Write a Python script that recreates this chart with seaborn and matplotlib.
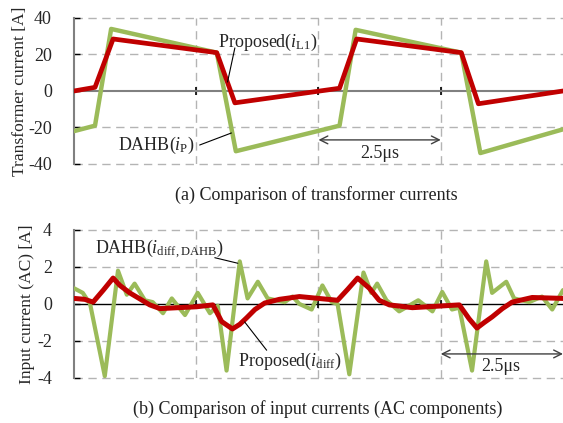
import matplotlib
matplotlib.use("Agg")
import matplotlib.pyplot as plt
import seaborn as sns
import pandas as pd

# ---- (a) transformer currents: time [us] and current [A] ----
t_prop_a = [0.0, 0.43, 0.80, 2.92, 3.29, 5.43, 5.78, 7.92, 8.27, 10.0]
i_prop_a = [0.0, 2.0, 28.5, 21.0, -6.5, 1.5, 28.5, 21.0, -7.0, 0.0]
t_dahb_a = [0.0, 0.43, 0.76, 2.92, 3.31, 5.43, 5.76, 7.92, 8.31, 10.0]
i_dahb_a = [-22.0, -19.0, 34.0, 21.0, -33.0, -19.0, 33.5, 21.0, -34.0, -21.0]

# ---- (b) input currents (AC components): time [us] and current [A] ----
t_prop_b = [0.0, 0.22, 0.39, 0.60, 0.80, 0.94, 1.14, 1.35, 1.55, 1.76, 2.51,
            2.84, 3.02, 3.24, 3.39, 3.53, 3.70, 3.90, 4.20, 4.61, 5.39, 5.60,
            5.80, 6.04, 6.24, 6.45, 6.92, 7.88, 8.08, 8.24, 8.39, 8.55, 8.76,
            8.96, 9.37, 10.0]
i_prop_b = [0.3, 0.25, 0.1, 0.75, 1.4, 1.0, 0.6, 0.27, -0.05, -0.25, -0.15,
            -0.05, -0.95, -1.35, -1.1, -0.75, -0.3, 0.05, 0.25, 0.4, 0.2, 0.8,
            1.4, 0.85, 0.2, -0.05, -0.2, -0.05, -0.8, -1.3, -1.0, -0.7, -0.25,
            0.1, 0.35, 0.3]
t_dahb_b = [0.0, 0.18, 0.33, 0.63, 0.90, 1.08, 1.24, 1.45, 1.61, 1.82, 2.00,
            2.27, 2.53, 2.78, 2.94, 3.12, 3.39, 3.55, 3.76, 3.96, 4.31, 4.47,
            4.61, 4.86, 5.08, 5.27, 5.39, 5.63, 5.92, 6.08, 6.20, 6.39, 6.65,
            7.04, 7.33, 7.53, 7.73, 7.88, 8.14, 8.43, 8.55, 8.84, 9.00, 9.31,
            9.57, 9.78, 10.0]
i_dahb_b = [0.85, 0.6, 0.0, -3.9, 1.8, 0.5, 1.1, 0.2, 0.1, -0.5, 0.3,
            -0.6, 0.6, -0.5, -0.1, -3.6, 2.3, 0.3, 1.2, 0.3, 0.1, 0.4,
            0.0, -0.3, 1.0, 0.1, 0.0, -3.8, 1.7, 0.6, 1.1, 0.2, -0.4,
            0.2, -0.4, 0.65, -0.3, -0.2, -3.6, 2.3, 0.6, 1.2, 0.3, 0.1,
            0.4, -0.3, 0.75]

y_ticks_a = [-40, -20, 0, 20, 40]
y_ticks_b = [-4, -2, 0, 2, 4]
x_div = [2.5, 5.0, 7.5]

RED = "#C00000"
GREEN = "#9BBB59"
GRID = "#B4B4B4"

sns.set_theme(style="white")
plt.rcParams["font.family"] = ["Liberation Serif", "DejaVu Serif"]
plt.rcParams["mathtext.fontset"] = "custom"
plt.rcParams["mathtext.rm"] = "Liberation Serif"
plt.rcParams["mathtext.it"] = "Liberation Serif:italic"
FS = 13

fig = plt.figure(figsize=(5.63, 4.23), dpi=100)
ax1 = fig.add_axes([0.1314, 0.6123, 0.8686, 0.3452])
ax2 = fig.add_axes([0.1314, 0.1064, 0.8686, 0.3500])


def frame(ax, ylim, yticks, zero_color, zero_lw):
    ax.set_xlim(0, 10)
    ax.set_ylim(*ylim)
    ax.set_yticks(yticks)
    ax.set_yticklabels([str(v) for v in yticks], fontsize=FS)
    for s in ("top", "right"):
        ax.spines[s].set_visible(False)
    ax.spines["left"].set_color("#808080")
    ax.spines["left"].set_linewidth(1.5)
    ax.spines["bottom"].set_position(("data", 0))
    ax.spines["bottom"].set_color(zero_color)
    ax.spines["bottom"].set_linewidth(zero_lw)
    ax.spines["bottom"].set_zorder(1)
    ax.set_xticks(x_div)
    ax.set_xticklabels([])
    ax.tick_params(axis="x", direction="inout", length=6, width=1.2,
                   color="black", bottom=True)
    ax.tick_params(axis="y", direction="in", length=4, width=1.0,
                   color="black", left=True, pad=16)
    for v in yticks:
        if v != 0:
            ax.axhline(v, color=GRID, lw=1.0, ls=(0, (6, 4)), zorder=0,
                       clip_on=False)
    for v in x_div:
        ax.axvline(v, color=GRID, lw=1.0, ls=(0, (6, 4)), zorder=0)


frame(ax1, (-40, 40), y_ticks_a, "#808080", 1.5)
frame(ax2, (-4, 4), y_ticks_b, "black", 1.0)

df_a_d = pd.DataFrame({"t": t_dahb_a, "i": i_dahb_a})
df_a_p = pd.DataFrame({"t": t_prop_a, "i": i_prop_a})
df_b_d = pd.DataFrame({"t": t_dahb_b, "i": i_dahb_b})
df_b_p = pd.DataFrame({"t": t_prop_b, "i": i_prop_b})

sns.lineplot(data=df_a_d, x="t", y="i", ax=ax1, color=GREEN, lw=3.2,
             sort=False, zorder=3)
sns.lineplot(data=df_a_p, x="t", y="i", ax=ax1, color=RED, lw=3.4,
             sort=False, zorder=4)
sns.lineplot(data=df_b_d, x="t", y="i", ax=ax2, color=GREEN, lw=3.0,
             sort=False, zorder=3)
sns.lineplot(data=df_b_p, x="t", y="i", ax=ax2, color=RED, lw=3.6,
             sort=False, zorder=4)

for ax in (ax1, ax2):
    ax.set_xlabel("")
    ax.set_ylabel("")

ax1.set_ylabel("Transformer current [A]", fontsize=12.6, labelpad=0)
ax2.set_ylabel("Input current (AC) [A]", fontsize=12.6, labelpad=1)

# labels with leader lines
ax1.text(2.94, 26.5, r"Proposed($i_{\mathrm{L1}}$)", fontsize=FS,
         ha="left", va="center", zorder=6)
ax1.plot([3.29, 3.14], [23.6, 4.9], color="black", lw=0.8, zorder=6)
ax1.text(0.9, -29.6, r"DAHB($i_{\mathrm{P}}$)", fontsize=FS,
         ha="left", va="center", zorder=6)
ax1.plot([2.57, 3.22], [-29.6, -23.0], color="black", lw=0.8, zorder=6)

ax2.text(0.43, 3.0, r"DAHB($i_{\mathrm{diff,DAHB}}$)", fontsize=FS,
         ha="left", va="center", zorder=6)
ax2.plot([2.88, 3.35], [2.5, 2.2], color="black", lw=0.8, zorder=6)
ax2.text(3.35, -3.1, r"Proposed($i_{\mathrm{diff}}$)", fontsize=FS,
         ha="left", va="center", zorder=6)
ax2.plot([3.49, 3.94], [-0.97, -2.5], color="black", lw=0.8, zorder=6)

# period markers
arrow_kw = dict(arrowstyle="<->", color="#404040", lw=1.0,
                mutation_scale=14, shrinkA=0, shrinkB=0)
ax1.annotate("", xy=(7.5, -26.8), xytext=(5.0, -26.8), arrowprops=arrow_kw)
ax1.text(6.25, -34.0, "2.5μs", fontsize=FS, ha="center", va="center")
ax2.annotate("", xy=(10.0, -2.7), xytext=(7.5, -2.7), arrowprops=arrow_kw,
             annotation_clip=False)
ax2.text(8.73, -3.4, "2.5μs", fontsize=FS, ha="center", va="center")

fig.text(0.562, 1 - 195 / 423, "(a) Comparison of transformer currents",
         fontsize=FS, ha="center", va="center", color="#222222")
fig.text(0.565, 1 - 409 / 423,
         "(b) Comparison of input currents (AC components)",
         fontsize=FS, ha="center", va="center", color="#222222")

fig.savefig("out.png", dpi=100)
